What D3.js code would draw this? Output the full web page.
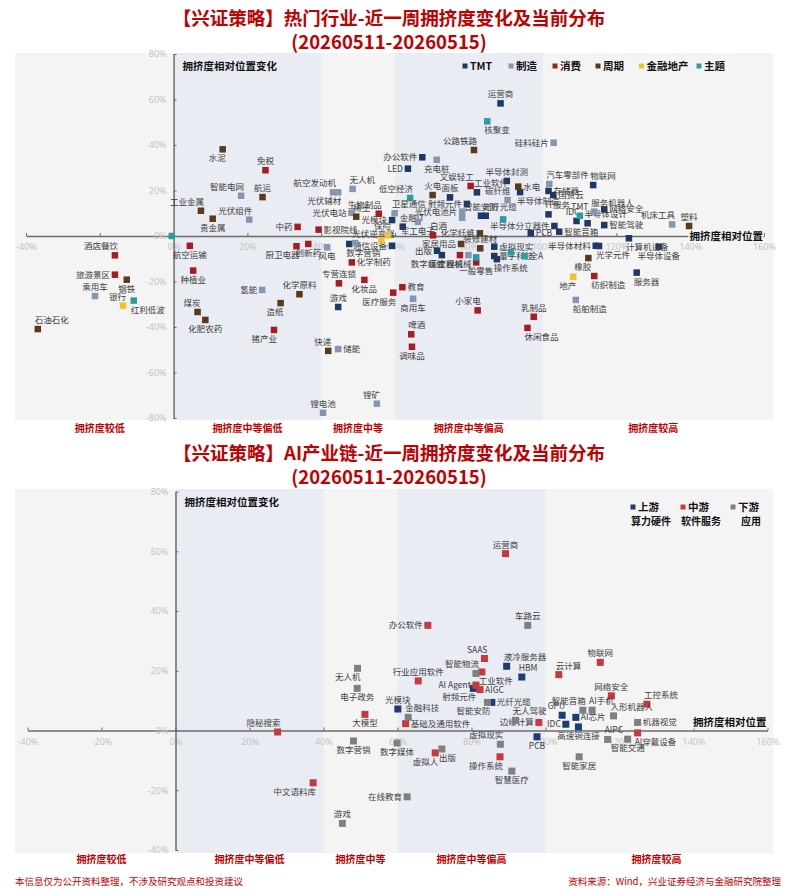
<!DOCTYPE html>
<html>
<head>
<meta charset="utf-8">
<script src="https://cdn.jsdelivr.net/npm/d3@7"></script>
<style>
  body { margin: 0; background: #fff; }
  svg { display: block; font-family: "Noto Sans CJK SC", "Noto Sans", sans-serif; }
</style>
</head>
<body>
<div id="chart"></div>
<script>
// ---------- Data: hot industries (x = crowding position %, y = weekly change %) ----------
const tmt = [
  ["运营商", 88.6, 58.3], ["办公软件", 67.4, 34.6], ["LED", 63.5, 29.6], ["工业软件", 82.2, 19.2],
  ["半导体封测", 90.3, 24.2], ["半导体制造", 93.9, 19.3], ["面板", 74.9, 17.0], ["射频元件", 79.5, 14.1],
  ["智能安防", 83.3, 8.9], ["光纤光缆", 84.6, 8.9], ["金融IT", 62.1, 4.1], ["光模块", 59.2, 7.0],
  ["通信设备", 59.2, -4.3], ["数字营销", 47.6, -3.5], ["游戏", 44.6, -31.2], ["出版", 71.4, -6.5],
  ["数字媒体", 72.7, -8.4], ["虚拟现实", 86.9, -4.7], ["量子科技", 86.9, -8.8], ["操作系统", 87.6, -10.2],
  ["PCB", 96.8, 1.3], ["存储器", 101.6, 19.8], ["国资云", 102.9, 18.0], ["物联网", 113.7, 22.4],
  ["IT服务", 101.6, 9.5], ["网络安全", 116.7, 11.7], ["半导体设计", 112.2, 5.6], ["智能驾驶", 116.7, 4.8],
  ["IDC", 109.2, 6.6], ["半导体分立器件", 103.2, 4.4], ["智能音箱", 104.5, 1.9], ["计算机设备", 123.4, -1.0],
  ["半导体材料", 114.4, -4.3], ["光学元件", 115.3, -4.4], ["半导体设备", 131.5, -4.7], ["服务器", 125.5, -16.1]
];
const manufacturing = [
  ["智能电网", 18.3, 17.7], ["光伏组件", 20.5, 7.2], ["乘用车", -21.3, -26.4], ["航空发动机", 43.2, 19.2],
  ["光伏辅材", 44.6, 19.2], ["无人机", 48.5, 20.7], ["光伏电站", 48.2, 10.2], ["卫星通信", 59.9, 10.0],
  ["充电桩", 71.3, 33.5], ["硅料硅片", 103.0, 41.0], ["碳纤维", 90.5, 15.8], ["光伏电池片", 78.2, 10.7],
  ["电网设备", 78.2, 8.0], ["军工电子", 66.2, 6.2], ["风电", 41.6, -5.0], ["光伏逆变器", 49.2, -3.1],
  ["氢能", 24.0, -23.7], ["储能", 44.6, -49.7], ["锂电池", 40.5, -77.7], ["锂矿", 55.1, -73.7],
  ["商用车", 64.9, -27.6], ["工程机械", 79.9, -8.4], ["汽车零部件", 101.8, 22.9], ["服务机器人", 114.0, 10.7],
  ["机床工具", 135.1, 5.1], ["船舶制造", 109.0, -28.1]
];
const consumer = [
  ["免税", 24.9, 28.9], ["航空运输", 4.4, -4.3], ["种植业", 5.3, -15.2], ["酒店餐饮", -15.9, -8.5],
  ["旅游景区", -15.9, -17.0], ["中药", 33.6, 4.0], ["影视院线", 39.3, 2.8], ["厨卫电器", 33.3, -4.5],
  ["创新药", 36.5, -3.5], ["生物制品", 55.6, 9.8], ["化学制药", 48.3, -11.6], ["专营连锁", 44.8, -20.8],
  ["化妆品", 51.7, -19.3], ["医疗服务", 59.5, -24.9], ["教育", 62.0, -22.5], ["猪产业", 27.2, -41.3],
  ["文娱轻工", 80.5, 22.0], ["白酒", 70.3, 0.3], ["医疗器械", 77.6, -8.4], ["一般零售", 82.0, -11.6],
  ["啤酒", 64.4, -43.2], ["调味品", 64.6, -48.7], ["小家电", 82.4, -32.7], ["乳制品", 97.6, -35.5],
  ["休闲食品", 95.9, -40.4], ["纺织制造", 114.0, -17.6]
];
const cyclical = [
  ["水泥", 13.3, 38.1], ["工业金属", 7.4, 11.1], ["贵金属", 10.6, 7.6], ["航运", 24.1, 17.1],
  ["钢铁", -12.7, -19.2], ["石油石化", -36.8, -40.9], ["煤炭", 6.5, -33.4], ["化肥农药", 8.6, -36.9],
  ["稀土", 49.5, 8.5], ["化学原料", 34.1, -25.6], ["造纸", 29.0, -29.5], ["快递", 41.9, -50.5],
  ["公路铁路", 81.4, 37.8], ["火电", 70.2, 18.0], ["水电", 93.4, 21.7], ["化学纤维", 83.0, 1.2],
  ["家居用品", 77.9, -3.5], ["装修建材", 83.1, -5.4], ["橡胶", 112.4, -9.7], ["塑料", 139.7, 4.4]
];
const financeRealty = [
  ["银行", -13.7, -30.6], ["保险", 58.1, 0.3], ["证券", 56.3, -1.8], ["地产", 108.3, -17.9]
];
const themes = [
  ["中证2000", -0.5, 0.0], ["红利低波", -10.8, -28.4], ["核聚变", 85.0, 50.4], ["低空经济", 64.1, 16.7],
  ["TMT", 110.1, 8.9], ["制造", 89.3, 7.3], ["消费", 82.0, -9.4], ["周期", 91.4, -7.2], ["全A", 95.1, -8.8]
];

// ---------- Data: AI industry chain ----------
const upstream = [
  ["光模块", 60.1, 7.2], ["液冷服务器", 89.5, 21.5], ["HBM", 93.6, 17.9], ["射频元件", 80.5, 14.1],
  ["光纤光缆", 85.5, 9.4], ["GPU", 104.5, 5.1], ["IDC", 105.5, 2.1], ["PCB", 97.7, -2.1],
  ["AI芯片", 108.2, 4.4], ["高速铜连接", 108.9, 1.2]
];
const midstream = [
  ["隐秘搜索", 27.6, -0.5], ["中文语料库", 37.2, -17.5], ["大模型", 51.2, 5.4], ["基础及通用软件", 62.2, 2.3],
  ["办公软件", 68.2, 35.2], ["行业应用软件", 65.6, 16.6], ["运营商", 89.2, 59.2], ["SAAS", 83.5, 24.1],
  ["工业软件", 82.8, 19.6], ["AI Agent", 81.2, 15.2], ["AIGC", 82.3, 13.7], ["云计算", 103.6, 18.7],
  ["边缘计算", 98.2, 2.7], ["虚拟人", 70.2, -7.5], ["操作系统", 87.7, -8.8], ["物联网", 114.8, 22.8],
  ["网络安全", 117.8, 11.6], ["工控系统", 127.4, 8.8], ["AI穿戴设备", 124.9, -0.8]
];
const downstream = [
  ["无人机", 49.2, 20.8], ["电子政务", 49.1, 14.1], ["数字营销", 48.1, -3.5], ["游戏", 45.1, -31.1],
  ["在线教育", 62.6, -22.2], ["金融科技", 62.9, 4.4], ["数字媒体", 59.9, -4.2], ["车路云", 95.2, 35.2],
  ["智能物流", 81.2, 19.1], ["智能安防", 84.3, 9.4], ["无人驾驶", 91.9, 3.4], ["虚拟现实", 87.8, -4.6],
  ["出版", 72.0, -6.2], ["智慧医疗", 90.9, -13.6], ["智能音箱", 110.1, 6.8], ["AI手机", 112.6, 6.8],
  ["人形机器人", 118.4, 4.9], ["AIPC", 116.8, -3.0], ["机器视觉", 124.9, 2.7], ["智能交通", 122.2, -2.9],
  ["智能家居", 109.1, -8.8]
];

// ---------- Axis ticks / zones ----------
const xTicks = [-40, -20, 0, 20, 40, 60, 80, 100, 120, 140, 160];
const yTicksTop = [80, 60, 40, 20, 0, -20, -40, -60, -80];
const yTicksAi = [80, 60, 40, 20, 0, -20, -40];
const zoneEdges = [-40, 0, 40, 60, 100, 160];
const zoneNames = ["拥挤度较低", "拥挤度中等偏低", "拥挤度中等", "拥挤度中等偏高", "拥挤度较高"];

// ---------- Label placement (which side of the square the name sits) ----------
const topLabelSide = {
  运营商:"t", 办公软件:"l", LED:"l", 工业软件:"tr", 半导体封测:"t", 半导体制造:"br", 面板:"t", 射频元件:"l",
  智能安防:"t", 光纤光缆:"tr", 金融IT:"tr", 光模块:"l", 通信设备:"l", 数字营销:"br", 游戏:"t", 出版:"l",
  数字媒体:"bl", 虚拟现实:"r", 量子科技:"r", 操作系统:"br", PCB:"r", 存储器:"r", 国资云:"r", 物联网:"tr",
  IT服务:"tr", 网络安全:"r", 半导体设计:"tr", 智能驾驶:"r", IDC:"tl", 半导体分立器件:"l", 智能音箱:"r",
  计算机设备:"br", 半导体材料:"l", 光学元件:"br", 半导体设备:"b", 服务器:"br",
  智能电网:"tl", 光伏组件:"tl", 乘用车:"t", 航空发动机:"tl", 光伏辅材:"bl", 无人机:"tr", 光伏电站:"l",
  卫星通信:"tr", 充电桩:"b", 硅料硅片:"l", 碳纤维:"tl", 光伏电池片:"l", 电网设备:"n", 军工电子:"b", 风电:"b",
  光伏逆变器:"tr", 氢能:"l", 储能:"r", 锂电池:"t", 锂矿:"tl", 商用车:"b", 工程机械:"bl", 汽车零部件:"tr",
  服务机器人:"tr", 机床工具:"tl", 船舶制造:"br",
  免税:"t", 航空运输:"b", 种植业:"b", 酒店餐饮:"tl", 旅游景区:"l", 中药:"l", 影视院线:"r", 厨卫电器:"bl",
  创新药:"b", 生物制品:"tl", 化学制药:"r", 专营连锁:"t", 化妆品:"b", 医疗服务:"bl", 教育:"r", 猪产业:"bl",
  文娱轻工:"tl", 白酒:"tr", 医疗器械:"bl", 一般零售:"b", 啤酒:"tr", 调味品:"b", 小家电:"tl", 乳制品:"t",
  休闲食品:"br", 纺织制造:"br",
  水泥:"bl", 工业金属:"tl", 贵金属:"b", 航运:"t", 钢铁:"b", 石油石化:"tr", 煤炭:"tl", 化肥农药:"b", 稀土:"tr",
  化学原料:"t", 造纸:"bl", 快递:"tl", 公路铁路:"tl", 火电:"t", 水电:"r", 化学纤维:"l", 家居用品:"l",
  装修建材:"t", 橡胶:"bl", 塑料:"t",
  银行:"tl", 保险:"tl", 证券:"n", 地产:"bl",
  中证2000:"n", 红利低波:"br", 核聚变:"br", 低空经济:"tl", TMT:"t", 制造:"n", 消费:"n", 周期:"n", 全A:"r"
};
const aiLabelSide = {
  光模块:"t", 液冷服务器:"tr", HBM:"tr", 射频元件:"bl", 光纤光缆:"r", GPU:"tl", IDC:"l", PCB:"b", AI芯片:"r",
  高速铜连接:"b", 隐秘搜索:"tl", 中文语料库:"bl", 大模型:"b", 基础及通用软件:"r", 办公软件:"l", 行业应用软件:"t",
  运营商:"t", SAAS:"tl", 工业软件:"br", "AI Agent":"l", AIGC:"r", 云计算:"tr", 边缘计算:"l", 虚拟人:"bl",
  操作系统:"bl", 物联网:"t", 网络安全:"t", 工控系统:"tr", AI穿戴设备:"br",
  无人机:"bl", 电子政务:"b", 数字营销:"b", 游戏:"t", 在线教育:"l", 金融科技:"tr", 数字媒体:"b", 车路云:"t",
  智能物流:"tl", 智能安防:"bl", 无人驾驶:"tr", 虚拟现实:"tl", 出版:"br", 智慧医疗:"b", 智能音箱:"tl",
  AI手机:"tr", 人形机器人:"tr", AIPC:"tr", 机器视觉:"r", 智能交通:"b", 智能家居:"b"
};

/*******************************/
/*    Declare the constants    */
/*******************************/
const width = 800;
const height = 895;
const red = "#c00000";
const bgGray = "#f4f4f4";
const bandBlue = "#e9ecf3";
const tickGray = "#c4c4c4";
const labelGray = "#404040";

const placement = {
  t: [0, -6, "middle"], b: [0, 12, "middle"], l: [-5, 3, "end"], r: [5, 3, "start"],
  tl: [3, -6, "end"], tr: [-3, -6, "start"], bl: [3, 12, "end"], br: [-3, 12, "start"]
};

const svg = d3.select("#chart")
  .append("svg")
    .attr("width", width)
    .attr("height", height)
    .attr("viewBox", `0 0 ${width} ${height}`);

// Titles
const addTitle = (lines, y0) => {
  lines.forEach((t, i) => {
    svg.append("text")
      .text(t)
      .attr("x", 389)
      .attr("y", y0 + i * 24)
      .attr("text-anchor", "middle")
      .attr("fill", red)
      .attr("font-size", 18.5)
      .attr("font-weight", 700);
  });
};
addTitle(["【兴证策略】热门行业-近一周拥挤度变化及当前分布", "(20260511-20260515)"], 25);
addTitle(["【兴证策略】AI产业链-近一周拥挤度变化及当前分布", "(20260511-20260515)"], 460);

/*******************************/
/*    Panel drawing function   */
/*******************************/
const drawPanel = (cfg) => {
  const g = svg.append("g");

  const xScale = d3.scaleLinear().domain([-40, 160]).range(cfg.xRange);
  const yScale = d3.scaleLinear().domain(cfg.yDomain).range(cfg.yRange);
  const x0 = xScale(0), y0 = yScale(0);

  // background + shaded zones
  g.append("rect")
    .attr("x", 15).attr("y", cfg.bgTop)
    .attr("width", 758).attr("height", cfg.bgBottom - cfg.bgTop)
    .attr("fill", bgGray);
  [[0, 40], [60, 100]].forEach(([a, b]) => {
    g.append("rect")
      .attr("x", xScale(a)).attr("y", cfg.bgTop)
      .attr("width", xScale(b) - xScale(a)).attr("height", cfg.bgBottom - cfg.bgTop)
      .attr("fill", bandBlue);
  });

  // zone labels
  zoneNames.forEach((name, i) => {
    g.append("text")
      .text(name)
      .attr("x", xScale((zoneEdges[i] + zoneEdges[i + 1]) / 2))
      .attr("y", cfg.zoneY)
      .attr("text-anchor", "middle")
      .attr("fill", red)
      .attr("font-size", 10)
      .attr("font-weight", 700);
  });

  // axes
  const fmt = d => d + "%";
  const bottomAxis = d3.axisBottom(xScale)
    .tickValues(xTicks).tickFormat(fmt)
    .tickSizeInner(-3).tickSizeOuter(0).tickPadding(8);
  const xAxisG = g.append("g")
    .attr("transform", `translate(0, ${y0})`)
    .call(bottomAxis);

  const leftAxis = d3.axisLeft(yScale)
    .tickValues(cfg.yTicks).tickFormat(fmt)
    .tickSizeInner(-3).tickSizeOuter(0).tickPadding(7);
  const yAxisG = g.append("g")
    .attr("transform", `translate(${x0}, 0)`)
    .call(leftAxis);

  [xAxisG, yAxisG].forEach(a => {
    a.select(".domain").attr("stroke", "#6b6b6b").attr("stroke-width", 1.5);
    a.selectAll(".tick line").attr("stroke", "#6b6b6b").attr("stroke-width", 1);
    a.selectAll(".tick text")
      .attr("fill", tickGray)
      .attr("font-size", 9)
      .attr("font-family", "'Noto Sans', sans-serif");
  });

  // axis titles
  g.append("text")
    .text("拥挤度相对位置变化")
    .attr("x", x0 + 9).attr("y", cfg.bgTop + 17)
    .attr("fill", "#111").attr("font-size", 10.5).attr("font-weight", 700);
  g.append("text")
    .text("拥挤度相对位置")
    .attr("x", xScale(160) - 1).attr("y", y0 + cfg.xTitleDy)
    .attr("text-anchor", "end")
    .attr("fill", "#111").attr("font-size", 10.5).attr("font-weight", 700)
    .attr("stroke", bgGray).attr("stroke-width", 3).attr("paint-order", "stroke");

  // legend
  cfg.groups.forEach((grp, i) => {
    const lx = cfg.legendX[i];
    g.append("rect")
      .attr("x", lx - 2.5).attr("y", cfg.legendY - 2.5)
      .attr("width", 5).attr("height", 5)
      .attr("fill", grp.color);
    g.append("text")
      .text(grp.name)
      .attr("x", lx + 5).attr("y", cfg.legendY + 4)
      .attr("fill", "#111").attr("font-size", 10.5).attr("font-weight", 700);
    if (grp.sub) {
      g.append("text")
        .text(grp.sub)
        .attr("x", lx + 18).attr("y", cfg.legendY + 18)
        .attr("text-anchor", "middle")
        .attr("fill", "#111").attr("font-size", 10).attr("font-weight", 700);
    }
  });

  // points + labels
  const s = cfg.markerSize;
  cfg.groups.forEach(grp => {
    const pts = grp.data.map(([name, x, y]) => ({ name, x, y }));
    g.append("g")
      .selectAll("rect")
      .data(pts)
      .join("rect")
        .attr("x", d => xScale(d.x) - s / 2)
        .attr("y", d => yScale(d.y) - s / 2)
        .attr("width", s)
        .attr("height", s)
        .attr("fill", grp.color);

    g.append("g")
      .selectAll("text")
      .data(pts.filter(d => (cfg.sides[d.name] || "r") !== "n"))
      .join("text")
        .text(d => d.name)
        .each(function(d) {
          const [dx, dy, anchor] = placement[cfg.sides[d.name] || "r"];
          d3.select(this)
            .attr("x", xScale(d.x) + dx)
            .attr("y", yScale(d.y) + dy)
            .attr("text-anchor", anchor);
        })
        .attr("fill", labelGray)
        .attr("font-size", 8.5);
  });
};

/*******************************/
/*        Top panel            */
/*******************************/
drawPanel({
  xRange: [26, 764],
  yDomain: [-80, 80],
  yRange: [418, 54],
  yTicks: yTicksTop,
  bgTop: 53,
  bgBottom: 420,
  zoneY: 432,
  xTitleDy: 4,
  markerSize: 6.5,
  sides: topLabelSide,
  legendY: 66,
  legendX: [465, 511, 555, 598, 641.5, 699],
  groups: [
    { name: "TMT", color: "#1f3864", data: tmt },
    { name: "制造", color: "#8497b0", data: manufacturing },
    { name: "消费", color: "#a61c22", data: consumer },
    { name: "周期", color: "#5a3a1c", data: cyclical },
    { name: "金融地产", color: "#f2c232", data: financeRealty },
    { name: "主题", color: "#2a9e9c", data: themes }
  ]
});

/*******************************/
/*        AI chain panel       */
/*******************************/
drawPanel({
  xRange: [27.5, 767.5],
  yDomain: [-40, 80],
  yRange: [850, 491.5],
  yTicks: yTicksAi,
  bgTop: 489,
  bgBottom: 853,
  zoneY: 863,
  xTitleDy: -5,
  markerSize: 7,
  sides: aiLabelSide,
  legendY: 507,
  legendX: [633, 683, 733],
  groups: [
    { name: "上游", sub: "算力硬件", color: "#1f3a78", data: upstream },
    { name: "中游", sub: "软件服务", color: "#c8383c", data: midstream },
    { name: "下游", sub: "应用", color: "#808080", data: downstream }
  ]
});

/*******************************/
/*          Footer             */
/*******************************/
svg.append("text")
  .text("本信息仅为公开资料整理，不涉及研究观点和投资建议")
  .attr("x", 15).attr("y", 885)
  .attr("fill", red).attr("font-size", 9.5);
svg.append("text")
  .text("资料来源：Wind，兴业证券经济与金融研究院整理")
  .attr("x", 781).attr("y", 885)
  .attr("text-anchor", "end")
  .attr("fill", red).attr("font-size", 9.5);
</script>
</body>
</html>
